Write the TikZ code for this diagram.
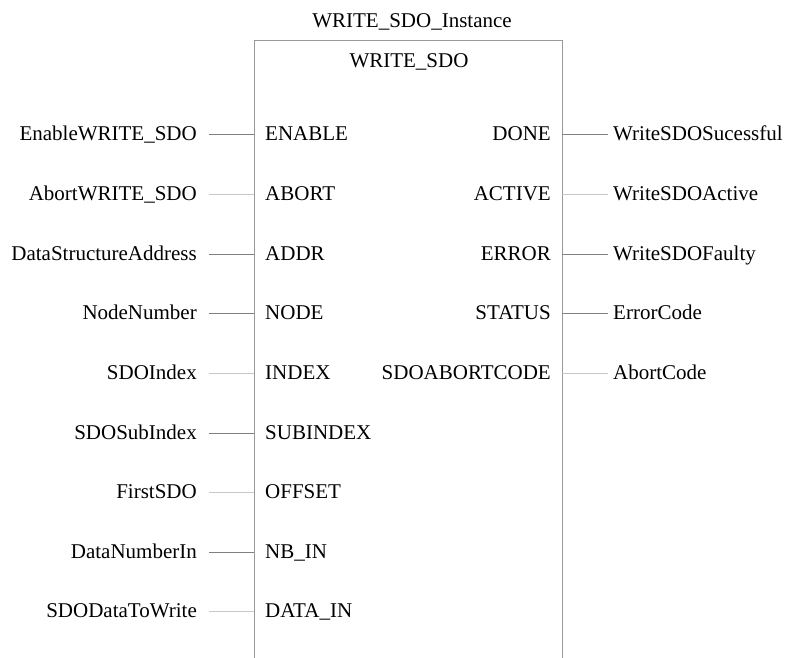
\documentclass[tikz,border=0pt]{standalone}
\usepackage{fontspec}
\setmainfont{Liberation Serif}
\definecolor{fbframe}{HTML}{999999}
\definecolor{wiredark}{HTML}{808080}
\definecolor{wirelight}{HTML}{C8C8C8}
\tikzset{
	lbl/.style={inner ysep=0pt, text height=13bp, text depth=1bp, font=\fontsize{21bp}{24bp}\selectfont},
	sigin/.style={lbl, anchor=east, inner xsep=12bp},
	sigout/.style={lbl, anchor=west, inner xsep=5bp},
	pinin/.style={lbl, anchor=west, inner xsep=11bp},
	pinout/.style={lbl, anchor=east, inner xsep=11bp},
	dk/.style={line width=1bp, color=wiredark},
	lt/.style={line width=1bp, color=wirelight}
}
\begin{document}
\begin{tikzpicture}[x=1bp, y=-1bp]
	\useasboundingbox (0,0) rectangle (789,658);
	\draw[line width=1bp, color=fbframe] (254,658) -- (254,40.5) -- (562,40.5) -- (562,658);
	\node[lbl, anchor=base, inner sep=0pt] (inst) at (412,28) {WRITE\_SDO\_Instance};
	\node[lbl, anchor=base, inner sep=0pt] (fbname) at (409,68) {WRITE\_SDO};
	% inputs
	\foreach \sig/\pin/\w [count=\i from 0] in {EnableWRITE\_SDO/ENABLE/dk, AbortWRITE\_SDO/ABORT/lt, DataStructureAddress/ADDR/dk, NodeNumber/NODE/dk, SDOIndex/INDEX/lt, SDOSubIndex/SUBINDEX/dk, FirstSDO/OFFSET/lt, DataNumberIn/NB\_IN/dk, SDODataToWrite/DATA\_IN/lt}{
		\node[sigin] (in\i) at (209,135+59.6*\i) {\sig};
		\node[pinin] (pi\i) at (254,135+59.6*\i) {\pin};
		\draw[\w] (in\i.east) -- (pi\i.west);
	}
	% outputs
	\foreach \sig/\pin/\w [count=\i from 0] in {WriteSDOSucessful/DONE/dk, WriteSDOActive/ACTIVE/lt, WriteSDOFaulty/ERROR/dk, ErrorCode/STATUS/dk, AbortCode/SDOABORTCODE/lt}{
		\node[pinout] (po\i) at (562,135+59.6*\i) {\pin};
		\node[sigout] (out\i) at (608,135+59.6*\i) {\sig};
		\draw[\w] (po\i.east) -- (out\i.west);
	}
\end{tikzpicture}
\end{document}
